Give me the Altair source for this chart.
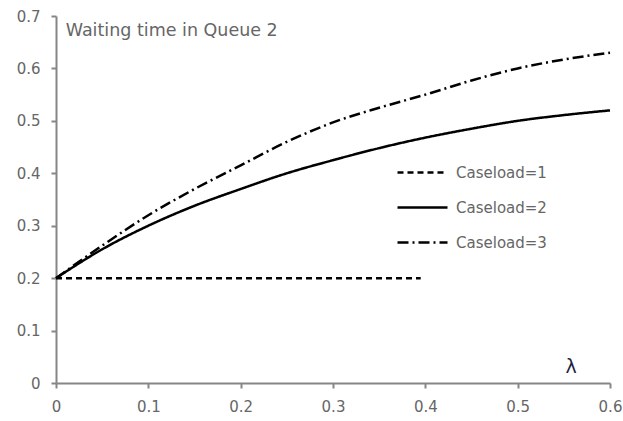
import altair as alt
import pandas as pd

lam = [0.0, 0.05, 0.1, 0.15, 0.2, 0.25, 0.3, 0.35, 0.4, 0.45, 0.5, 0.55, 0.6]
case2 = [0.2, 0.255, 0.30, 0.338, 0.37, 0.40, 0.425, 0.448, 0.468, 0.485, 0.50, 0.511, 0.52]
case3 = [0.2, 0.262, 0.32, 0.37, 0.415, 0.46, 0.497, 0.525, 0.55, 0.577, 0.60, 0.617, 0.63]
lam1 = [0.0, 0.395]
case1 = [0.2, 0.2]
series = ["Caseload=1", "Caseload=2", "Caseload=3"]
x_ticks = [0, 0.1, 0.2, 0.3, 0.4, 0.5, 0.6]
y_ticks = [0, 0.1, 0.2, 0.3, 0.4, 0.5, 0.6, 0.7]

rows = []
for x, y in zip(lam1, case1):
    rows.append({"lam": x, "w": y, "s": series[0]})
for x, y in zip(lam, case2):
    rows.append({"lam": x, "w": y, "s": series[1]})
for x, y in zip(lam, case3):
    rows.append({"lam": x, "w": y, "s": series[2]})
df = pd.DataFrame(rows)

FONT = "DejaVu Sans"
GRAY = "#666666"
AX = "#868686"

xs = alt.Scale(domain=[0, 0.6], nice=False)
ys = alt.Scale(domain=[0, 0.7], nice=False)
xaxis = alt.Axis(values=x_ticks, title=None, grid=False, format="~g", labelFlush=False, labelPadding=11,
                 labelFontSize=15, labelFont=FONT, labelColor=GRAY)
yaxis = alt.Axis(values=y_ticks, title=None, grid=False, format="~g", labelPadding=11,
                 labelFontSize=15, labelFont=FONT, labelColor=GRAY)

lines = alt.Chart(df).mark_line(strokeWidth=2.5, color="black", interpolate="monotone").encode(
    x=alt.X("lam:Q", scale=xs, axis=xaxis),
    y=alt.Y("w:Q", scale=ys, axis=yaxis),
    strokeDash=alt.StrokeDash("s:N", scale=alt.Scale(domain=series, range=[[6, 4], [1, 0], [11, 4, 2, 4]]),
                              legend=alt.Legend(title=None, orient="none", legendX=340, legendY=130,
                                                symbolType="stroke", symbolSize=2500, symbolStrokeWidth=2.5,
                                                symbolStrokeColor="black", labelFont=FONT, labelFontSize=15,
                                                labelColor=GRAY, rowPadding=-13, labelOffset=7)),
    detail="s:N",
)

title_df = pd.DataFrame({"lam": [0.0105], "w": [0.672], "t": ["Waiting time in Queue 2"]})
title = alt.Chart(title_df).mark_text(align="left", baseline="middle", font=FONT, fontSize=17.5, color=GRAY).encode(
    x=alt.X("lam:Q", scale=xs, axis=xaxis), y=alt.Y("w:Q", scale=ys, axis=yaxis), text="t:N")

lab_df = pd.DataFrame({"lam": [0.558], "w": [0.03], "t": ["λ"]})
lab = alt.Chart(lab_df).mark_text(align="center", baseline="middle", font="DejaVu Sans", fontSize=19, color="#1f1f3f").encode(
    x=alt.X("lam:Q", scale=xs, axis=xaxis), y=alt.Y("w:Q", scale=ys, axis=yaxis), text="t:N")

chart = alt.layer(lines, title, lab).properties(
    width=554, height=367,
    autosize=alt.AutoSizeParams(type="none"),
    padding={"left": 56, "top": 16, "right": 13, "bottom": 38},
    background="white",
).configure_axis(
    domainColor=AX, tickColor=AX, domainWidth=2, tickWidth=2, tickSize=5,
    labelColor=GRAY, labelFont=FONT, labelFontSize=15,
).configure_view(stroke=None)

chart.save("out.html", embed_options={"renderer": "svg", "actions": False})
